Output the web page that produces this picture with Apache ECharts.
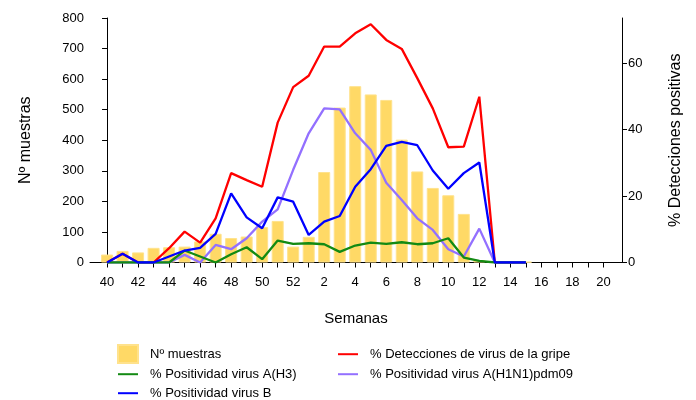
<!DOCTYPE html>
<html>
<head>
<meta charset="utf-8">
<script src="https://cdn.jsdelivr.net/npm/echarts@6/dist/echarts.min.js"></script>
<style>html,body{margin:0;padding:0;background:#fff}#c{width:696px;height:400px}</style>
</head>
<body>
<div id="c"></div>
<script>
const weeks = ['40','41','42','43','44','45','46','47','48','49','50','51','52','1','2','3','4','5','6','7','8','9','10','11','12','13','14','15','16','17','18','19','20'];
const muestras = [26,38,33,48,50,52,69,94,80,85,116,136,52,84,296,507,577,550,532,402,298,244,220,159,8,0,0,2,null,null,null,null,null];
const detecciones = [0,2.6,0,0,4.3,9.3,6.0,13.3,26.9,24.8,22.8,42.1,52.8,56.2,65.0,65.0,69.0,71.7,67.0,64.3,55.5,46.4,34.7,34.9,49.9,0,0,0,null,null,null,null,null];
const h3 = [0,0,0,0,0,3.6,1.8,0,2.5,4.6,1.0,6.6,5.6,5.8,5.5,3.2,5.1,6.0,5.6,6.1,5.5,5.8,7.3,1.5,0.5,0,0,0,null,null,null,null,null];
const h1n1 = [0,0,0,0,0,2.3,0,5.3,4.0,7.3,12.3,16.0,27.9,38.9,46.4,46.1,38.9,33.9,24.0,18.8,13.3,9.8,4.0,1.8,10.2,0,0,0,null,null,null,null,null];
const virusB = [0,2.6,0,0,1.8,3.6,4.4,8.6,20.8,13.6,10.3,19.6,18.3,8.3,12.3,14.0,22.8,28.1,35.1,36.3,35.3,27.7,22.2,26.9,30.1,0,0,0,null,null,null,null,null];
const leftTicks = [0,100,200,300,400,500,600,700,800];
const rightTicks = [0,20,40,60];

const idx = weeks.map((w,i)=>i);
const pairs = arr => arr.map((v,i)=>[i,v]);
const FONT = 'Liberation Sans, Arial, sans-serif';
const legendAt = (left, top, item) => ({
  orient:'vertical', left:left, top:top, padding:0, itemWidth:20, itemHeight:18,
  textStyle:{fontFamily:FONT, fontSize:13, color:'#000', padding:[0,0,0,7]},
  data:[item]
});
const lineItem = name => ({name:name, itemStyle:{opacity:0}});

const chart = echarts.init(document.getElementById('c'), null, {renderer:'canvas'});
chart.setOption({
  animation:false,
  backgroundColor:'#fff',
  textStyle:{fontFamily:FONT, color:'#000'},
  grid:{left:90, right:74, top:18, bottom:137.5, containLabel:false},
  legend:[
    legendAt(117, 344, {name:'Nº muestras', icon:'rect'}),
    legendAt(117, 367, lineItem('% Positividad virus A(H3)')),
    legendAt(117, 386, lineItem('% Positividad virus B')),
    legendAt(337, 347, lineItem('% Detecciones de virus de la gripe')),
    legendAt(337, 367, lineItem('% Positividad virus A(H1N1)pdm09'))
  ],
  xAxis:{
    type:'value', min:-1.1, max:33.2,
    name:'Semanas', nameLocation:'middle', nameGap:49,
    nameTextStyle:{fontFamily:FONT, fontSize:15, color:'#000'},
    axisLine:{show:true, lineStyle:{color:'#000', width:1}},
    axisTick:{show:true, length:5, lineStyle:{color:'#000'}, customValues:idx},
    axisLabel:{customValues:idx.filter(i=>i%2===0), formatter:v=>weeks[Math.round(v)], fontSize:13, color:'#000', margin:13, fontFamily:FONT},
    splitLine:{show:false}
  },
  yAxis:[
    {type:'value', min:0, max:800, interval:100, position:'left',
     name:'Nº muestras', nameLocation:'middle', nameGap:56,
     nameTextStyle:{fontFamily:FONT, fontSize:16, color:'#000'},
     axisLine:{show:true, lineStyle:{color:'#000'}},
     axisTick:{show:true, length:5, lineStyle:{color:'#000'}, customValues:leftTicks},
     axisLabel:{customValues:leftTicks, fontSize:13, color:'#000', margin:6, fontFamily:FONT},
     splitLine:{show:false}},
    {type:'value', min:0, max:73.6, position:'right',
     name:'% Detecciones positivas', nameLocation:'middle', nameGap:46,
     nameTextStyle:{fontFamily:FONT, fontSize:16, color:'#000'},
     axisLine:{show:true, lineStyle:{color:'#000'}},
     axisTick:{show:true, length:5, lineStyle:{color:'#000'}, customValues:rightTicks},
     axisLabel:{customValues:rightTicks, fontSize:13, color:'#000', margin:6, fontFamily:FONT},
     splitLine:{show:false}}
  ],
  series:[
    {name:'Nº muestras', type:'bar', yAxisIndex:0, barWidth:12, data:pairs(muestras),
     itemStyle:{color:'#FFD966', borderColor:'#FFE28C', borderWidth:1}, z:1},
    {name:'% Detecciones de virus de la gripe', type:'line', yAxisIndex:1, data:pairs(detecciones),
     symbol:'none', lineStyle:{color:'#FF0000', width:2.3}, itemStyle:{color:'#FF0000'}, z:2},
    {name:'% Positividad virus A(H1N1)pdm09', type:'line', yAxisIndex:1, data:pairs(h1n1),
     symbol:'none', lineStyle:{color:'#9370FF', width:2.3}, itemStyle:{color:'#9370FF'}, z:3},
    {name:'% Positividad virus A(H3)', type:'line', yAxisIndex:1, data:pairs(h3),
     symbol:'none', lineStyle:{color:'#138A13', width:2.3}, itemStyle:{color:'#138A13'}, z:4},
    {name:'% Positividad virus B', type:'line', yAxisIndex:1, data:pairs(virusB),
     symbol:'none', lineStyle:{color:'#0000FF', width:2.3}, itemStyle:{color:'#0000FF'}, z:5}
  ]
});
</script>
</body>
</html>
